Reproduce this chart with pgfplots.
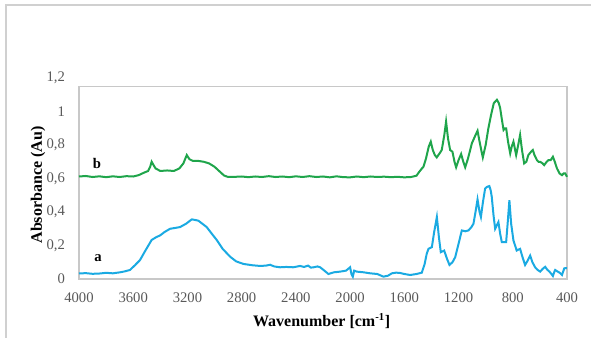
\documentclass[border=0pt]{standalone}
\usepackage{pgfplots}
\pgfplotsset{compat=1.18}
\usepackage{fontspec}
\setmainfont{Liberation Serif}
\definecolor{cgreen}{HTML}{1FA54B}
\definecolor{cblue}{HTML}{1AAAE2}
\definecolor{tickgray}{HTML}{595959}
\definecolor{framegray}{HTML}{C8C8C8}
\definecolor{outergray}{HTML}{D0D0D0}
\begin{document}
\begin{tikzpicture}
\path[use as bounding box] (-59.25pt,-43.5pt) rectangle (384pt,209.25pt);
\draw[outergray, line width=1.3pt] (-54.75pt,-50pt) -- (-54.75pt,205.5pt) -- (390pt,205.5pt);
\begin{axis}[
  at={(0,0)}, anchor=south west,
  scale only axis,
  width=366pt, height=150.75pt,
  x dir=reverse,
  xmin=400, xmax=4000, ymin=0, ymax=1.2,
  xtick={400,800,...,4000},
  ytick={0,0.2,...,1.2},
  /pgf/number format/.cd, use comma, 1000 sep={}, assume math mode=true,
  /pgfplots/.cd,
  axis line style={draw=none},
  major tick length=0pt,
  tick label style={font=\fontsize{11}{12}\selectfont, text=tickgray},
  xticklabel style={anchor=center, yshift=-14pt},
  yticklabel style={anchor=east, xshift=-7pt},
  xlabel={\textbf{Wavenumber [cm\textsuperscript{-1}]}},
  label style={font=\fontsize{12}{13}\selectfont},
  xlabel style={at={(axis description cs:0.5,0)}, anchor=center, yshift=-31.5pt, xshift=-1pt},
  clip=false,
]
\draw[framegray, line width=0.8pt] (axis cs:4000,0) rectangle (axis cs:400,1.152);
% b (green)
\addplot[cgreen, line width=1.5pt] coordinates {
(4000,0.612)(3950,0.615)(3900,0.609)(3850,0.613)(3800,0.608)(3750,0.613)(3700,0.609)(3650,0.614)(3600,0.612)(3560,0.62)(3520,0.635)(3490,0.645)(3475,0.67)(3464,0.70)(3450,0.68)(3435,0.66)(3400,0.645)(3350,0.648)(3300,0.645)(3260,0.66)(3230,0.69)(3205,0.74)(3185,0.715)(3160,0.705)(3120,0.705)(3080,0.70)(3040,0.69)(3000,0.67)(2960,0.64)(2930,0.618)(2900,0.609)(2850,0.61)(2800,0.612)(2750,0.608)(2700,0.612)(2650,0.609)(2600,0.614)(2550,0.609)(2500,0.612)(2450,0.608)(2400,0.613)(2350,0.609)(2300,0.614)(2250,0.609)(2200,0.612)(2150,0.607)(2100,0.613)(2050,0.608)(2000,0.607)(1950,0.612)(1900,0.608)(1850,0.612)(1800,0.609)(1750,0.611)(1700,0.608)(1650,0.61)(1600,0.607)(1550,0.609)(1510,0.617)(1490,0.64)(1470,0.66)(1459,0.67)(1440,0.72)(1420,0.79)(1405,0.82)(1390,0.77)(1375,0.74)(1361,0.726)(1340,0.75)(1324,0.77)(1305,0.86)(1292,0.94)(1278,0.84)(1262,0.77)(1245,0.76)(1230,0.70)(1218,0.667)(1200,0.71)(1181,0.746)(1165,0.70)(1151,0.667)(1130,0.72)(1102,0.81)(1080,0.85)(1060,0.885)(1045,0.82)(1030,0.76)(1021,0.726)(1000,0.80)(980,0.90)(960,0.98)(940,1.05)(917,1.07)(903,1.05)(893,1.02)(880,0.95)(868,0.89)(858,0.90)(849,0.90)(835,0.82)(819,0.75)(808,0.79)(795,0.82)(785,0.78)(775,0.74)(760,0.80)(746,0.86)(732,0.77)(716,0.69)(700,0.70)(685,0.74)(665,0.76)(652,0.77)(640,0.74)(622,0.71)(610,0.70)(598,0.70)(580,0.69)(568,0.68)(550,0.70)(536,0.71)(520,0.71)(504,0.73)(490,0.70)(474,0.66)(455,0.63)(437,0.62)(425,0.63)(413,0.63)(400,0.61)
};
% a (blue)
\addplot[cblue, line width=1.5pt] coordinates {
(4000,0.033)(3950,0.035)(3900,0.031)(3845,0.033)(3800,0.037)(3750,0.034)(3697,0.04)(3660,0.046)(3624,0.054)(3590,0.08)(3550,0.113)(3510,0.17)(3464,0.233)(3430,0.25)(3402,0.26)(3370,0.28)(3328,0.30)(3290,0.305)(3255,0.31)(3210,0.33)(3168,0.356)(3140,0.352)(3119,0.348)(3090,0.33)(3058,0.31)(3020,0.27)(2984,0.233)(2940,0.18)(2885,0.133)(2840,0.105)(2787,0.09)(2720,0.082)(2664,0.078)(2620,0.08)(2590,0.085)(2560,0.075)(2517,0.07)(2470,0.072)(2420,0.07)(2369,0.078)(2340,0.072)(2310,0.08)(2290,0.068)(2270,0.07)(2240,0.075)(2221,0.07)(2190,0.05)(2160,0.03)(2120,0.04)(2074,0.044)(2030,0.05)(2000,0.07)(1990,0.03)(1980,0.014)(1970,0.05)(1951,0.044)(1900,0.04)(1852,0.034)(1800,0.03)(1754,0.014)(1720,0.02)(1692,0.034)(1660,0.038)(1631,0.036)(1600,0.03)(1557,0.024)(1510,0.03)(1471,0.038)(1450,0.09)(1435,0.15)(1422,0.18)(1397,0.19)(1380,0.28)(1360,0.37)(1345,0.25)(1331,0.16)(1306,0.17)(1285,0.12)(1267,0.084)(1245,0.10)(1225,0.13)(1200,0.21)(1176,0.29)(1150,0.285)(1127,0.29)(1105,0.31)(1090,0.33)(1075,0.40)(1060,0.475)(1045,0.40)(1035,0.37)(1020,0.46)(1004,0.54)(990,0.55)(973,0.555)(963,0.53)(955,0.49)(942,0.38)(930,0.30)(918,0.32)(906,0.34)(893,0.27)(881,0.22)(865,0.22)(849,0.22)(838,0.33)(825,0.47)(812,0.33)(795,0.23)(783,0.20)(771,0.17)(760,0.175)(746,0.18)(728,0.13)(709,0.084)(690,0.11)(672,0.14)(655,0.10)(635,0.07)(618,0.055)(598,0.044)(580,0.06)(561,0.073)(545,0.055)(529,0.044)(515,0.03)(504,0.018)(495,0.04)(487,0.054)(470,0.045)(455,0.038)(437,0.024)(428,0.045)(420,0.064)(410,0.065)(400,0.064)
};
\node[font=\bfseries\fontsize{11}{12}\selectfont] at (axis cs:3867,0.69) {b};
\node[font=\bfseries\fontsize{11}{12}\selectfont] at (axis cs:3860,0.125) {a};
\node[rotate=90, font=\bfseries\fontsize{12}{13}\selectfont] at ([xshift=-30.75pt, yshift=-4.9pt]rel axis cs:0,0.5) {Absorbance (Au)};
\end{axis}
\end{tikzpicture}
\end{document}
